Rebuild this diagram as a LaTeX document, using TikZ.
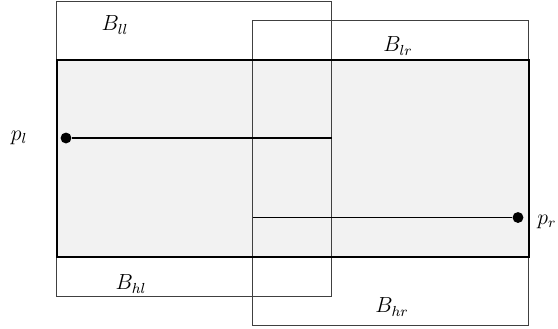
\documentclass[tikz,border=0pt]{standalone}
\begin{document}
\begin{tikzpicture}[x=0.55pt,y=-0.55pt,
  boxline/.style={draw=black!75,line width=0.55pt},
  dot/.style={circle,fill=black,inner sep=0pt,minimum size=6pt},
  lbl/.style={inner sep=0pt,font=\large}]
\useasboundingbox (0,0) rectangle (558,328);
\fill[black!5] (57,60) rectangle (529,257);
\draw[boxline] (57,1) rectangle (332,296);
\draw[boxline] (253,20.5) rectangle (529,325);
\draw[line width=1.2pt] (57,60) rectangle (529,257);
\node[dot] (pl) at (66,138) {};
\node[dot] (pr) at (518,217.5) {};
\coordinate (plend) at (332,138);
\coordinate (prend) at (253,217.5);
\draw[line width=0.6pt] (pl) -- (plend);
\draw[line width=0.6pt] (pr) -- (prend);
\node[lbl] (Bll) at (115,25) {$B_{ll}$};
\node[lbl] (Blr) at (398,46) {$B_{lr}$};
\node[lbl] (Bhl) at (131,284) {$B_{hl}$};
\node[lbl] (Bhr) at (392,307) {$B_{hr}$};
\node[lbl] (plab) at (19,138) {$p_l$};
\node[lbl] (prab) at (547,222) {$p_r$};
\end{tikzpicture}
\end{document}
